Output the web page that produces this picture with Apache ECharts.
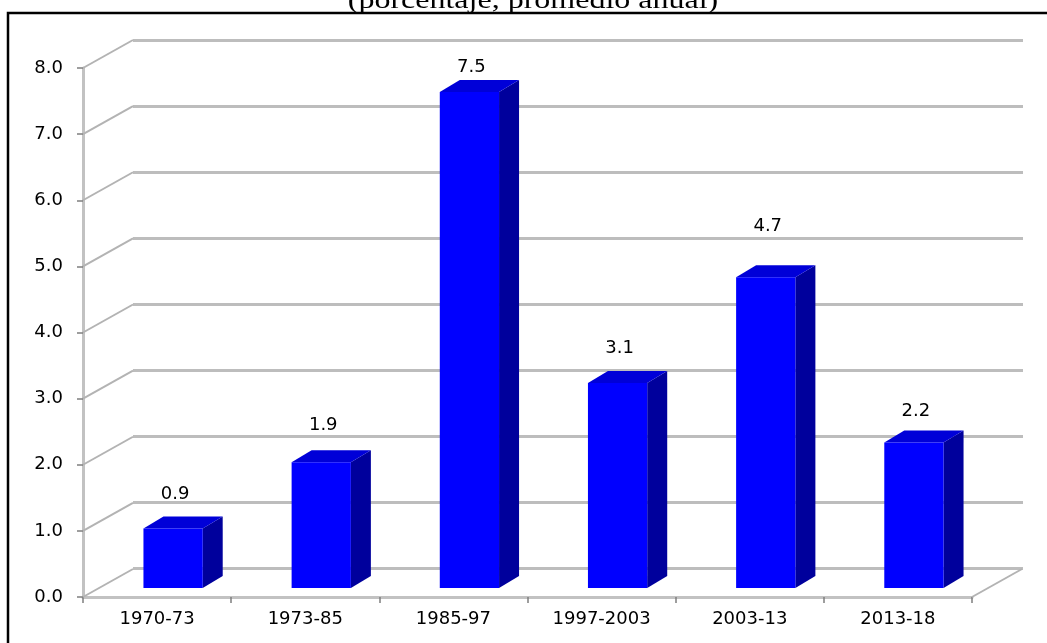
<!DOCTYPE html>
<html>
<head>
<meta charset="utf-8">
<script src="https://cdn.jsdelivr.net/npm/echarts@6/dist/echarts.min.js"></script>
<style>
  html, body { margin: 0; padding: 0; background: #ffffff; }
  #chart { width: 1047px; height: 643px; }
</style>
</head>
<body>
<div id="chart"></div>
<script>
// Average annual growth by period (percent)
const periods = ['1970-73', '1973-85', '1985-97', '1997-2003', '2003-13', '2013-18'];
const growth = [0.9, 1.9, 7.5, 3.1, 4.7, 2.2];
const yTicks = [0, 1, 2, 3, 4, 5, 6, 7, 8];
const subtitle = '(porcentaje, promedio anual)';

// Extra lift (px) for individual value labels
const labelRaise = [0, 3, -9, 1, 17, -3];

// Pseudo-3D geometry: offset of the back wall, and of the column faces
const DEPTH = [50, -28];
const FRONT = [16, -9];
const BACK = [36, -21];

const FONT = 'DejaVu Sans, Verdana, sans-serif';
const GRID_GREY = '#bdbdbd';

const chart = echarts.init(document.getElementById('chart'), null, { renderer: 'canvas' });

function renderWall(params, api) {
  const cs = params.coordSys;
  const v = api.value(1);
  const p = api.coord([0, v]);
  const x0 = cs.x;
  const children = [{
    type: 'line',
    shape: { x1: x0, y1: p[1], x2: x0 + DEPTH[0], y2: p[1] + DEPTH[1] },
    style: { stroke: '#b3b3b3', lineWidth: 2 }
  }];
  if (v === 0) {
    const xr = cs.x + cs.width;
    children.push({
      type: 'line',
      shape: { x1: xr, y1: p[1], x2: xr + DEPTH[0], y2: p[1] + DEPTH[1] },
      style: { stroke: '#b3b3b3', lineWidth: 2 }
    });
  }
  return { type: 'group', children: children };
}

function renderBar(params, api) {
  const i = api.value(0);
  const v = api.value(1);
  const top = api.coord([i, v]);
  const base = api.coord([i, 0]);
  const band = api.size([1, 0])[0];
  const w = band * 0.4;
  const xl = top[0] + FRONT[0] - w / 2;
  const xr = xl + w;
  const yt = top[1] + FRONT[1];
  const yb = base[1] + FRONT[1];
  const dx = BACK[0] - FRONT[0];
  const dy = BACK[1] - FRONT[1];
  const lift = 22 + (labelRaise[params.dataIndex] || 0);
  return {
    type: 'group',
    children: [
      { // right side face
        type: 'polygon',
        shape: { points: [[xr, yt], [xr + dx, yt + dy], [xr + dx, yb + dy], [xr, yb]] },
        style: { fill: '#00009c' }
      },
      { // top face
        type: 'polygon',
        shape: { points: [[xl, yt], [xl + dx, yt + dy], [xr + dx, yt + dy], [xr, yt]] },
        style: { fill: '#0000d8' }
      },
      { // front face
        type: 'rect',
        shape: { x: xl, y: yt, width: w, height: yb - yt },
        style: { fill: '#0000ff' }
      },
      { // value label
        type: 'text',
        x: xl + w / 2 + 2,
        y: yt + dy - lift,
        style: {
          text: v.toFixed(1),
          font: '18px ' + FONT,
          fill: '#000000',
          align: 'center',
          verticalAlign: 'middle'
        }
      }
    ]
  };
}

const option = {
  backgroundColor: '#ffffff',
  animation: false,
  grid: [
    { left: 83, top: 68, width: 889, height: 529 },   // front plane
    { left: 133, top: 40, width: 890, height: 528 }   // back wall
  ],
  xAxis: [
    {
      gridIndex: 0,
      type: 'category',
      data: periods,
      boundaryGap: true,
      axisLine: { show: true, lineStyle: { color: '#c2c2c2', width: 3 } },
      axisTick: { show: true, length: 6, lineStyle: { color: '#7f7f7f', width: 1.5 } },
      axisLabel: { margin: 13, color: '#000000', fontSize: 18, fontFamily: FONT },
      splitLine: { show: false }
    },
    {
      gridIndex: 1,
      type: 'category',
      data: periods,
      show: false
    }
  ],
  yAxis: [
    {
      gridIndex: 0,
      type: 'value',
      min: 0, max: 8, interval: 1,
      axisLine: { show: true, lineStyle: { color: '#c2c2c2', width: 3 } },
      axisTick: { show: true, length: 6, lineStyle: { color: '#7f7f7f', width: 1.5 } },
      axisLabel: {
        margin: 20, color: '#000000', fontSize: 18, fontFamily: FONT,
        formatter: function (v) { return v.toFixed(1); }
      },
      splitLine: { show: false }
    },
    {
      gridIndex: 1,
      type: 'value',
      min: 0, max: 8, interval: 1,
      axisLine: { show: false },
      axisTick: { show: false },
      axisLabel: { show: false },
      splitLine: { show: true, lineStyle: { color: GRID_GREY, width: 3 } }
    }
  ],
  graphic: [
    {
      type: 'rect',
      shape: { x: 8, y: 13, width: 1200, height: 800 },
      style: { fill: 'none', stroke: '#000000', lineWidth: 2.5 },
      z: 100
    },
    {
      type: 'text',
      x: 533,
      y: 14,
      scaleX: 1.28,
      originX: 0,
      originY: 0,
      style: {
        text: subtitle,
        font: '25px Liberation Serif, Times New Roman, serif',
        fill: '#000000',
        align: 'center',
        verticalAlign: 'bottom'
      },
      z: 100
    }
  ],
  series: [
    {
      type: 'custom',
      xAxisIndex: 0,
      yAxisIndex: 0,
      renderItem: renderWall,
      data: yTicks.map(function (t) { return [0, t]; }),
      silent: true,
      z: 1
    },
    {
      type: 'custom',
      xAxisIndex: 0,
      yAxisIndex: 0,
      renderItem: renderBar,
      data: growth.map(function (v, i) { return [i, v]; }),
      silent: true,
      z: 5
    }
  ]
};

chart.setOption(option);
</script>
</body>
</html>
